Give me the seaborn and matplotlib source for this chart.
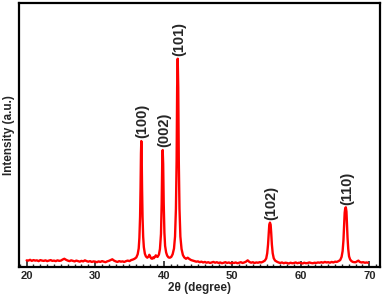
"""XRD pattern - (hkl) reflections"""
import pandas as pd
import matplotlib
matplotlib.use('Agg')
import matplotlib.pyplot as plt
from matplotlib.ticker import MultipleLocator
import seaborn as sns

# 2theta (degree) and intensity (a.u.)
two_theta = [
    20.0, 20.25, 20.5, 20.75, 21.0, 21.25, 21.5, 21.75, 22.0, 22.25, 22.5, 22.75,
    23.0, 23.25, 23.5, 23.75, 24.0, 24.25, 24.5, 24.75, 25.0, 25.25, 25.5, 25.75,
    26.0, 26.25, 26.5, 26.75, 27.0, 27.25, 27.5, 27.75, 28.0, 28.25, 28.5, 28.75,
    29.0, 29.25, 29.5, 29.75, 30.0, 30.25, 30.5, 30.75, 31.0, 31.25, 31.5, 31.75,
    32.0, 32.25, 32.5, 32.75, 33.0, 33.25, 33.5, 33.75, 34.0, 34.25, 34.5, 34.75,
    35.0, 35.25, 35.5, 35.75, 36.0, 36.2, 36.35, 36.45, 36.55, 36.62, 36.68, 36.73,
    36.78, 36.84, 36.91, 37.0, 37.1, 37.25, 37.4, 37.6, 37.8, 37.9, 38.0, 38.15,
    38.3, 38.45, 38.55, 38.7, 38.85, 38.95, 39.1, 39.3, 39.45, 39.6, 39.7, 39.78,
    39.85, 39.92, 40.0, 40.1, 40.2, 40.35, 40.5, 40.7, 40.9, 41.1, 41.3, 41.5,
    41.65, 41.78, 41.88, 41.96, 42.04, 42.12, 42.2, 42.3, 42.43, 42.6, 42.8, 43.0,
    43.25, 43.5, 43.75, 44.0, 44.25, 44.5, 44.75, 45.0, 45.25, 45.5, 45.75, 46.0,
    46.25, 46.5, 46.75, 47.0, 47.25, 47.5, 47.75, 48.0, 48.25, 48.5, 48.75, 49.0,
    49.25, 49.5, 49.75, 50.0, 50.25, 50.5, 50.75, 51.0, 51.25, 51.5, 51.75, 52.0,
    52.25, 52.5, 52.75, 53.0, 53.25, 53.5, 53.75, 54.0, 54.25, 54.5, 54.75, 54.95,
    55.1, 55.22, 55.32, 55.4, 55.5, 55.6, 55.68, 55.78, 55.9, 56.05, 56.25, 56.5,
    56.75, 57.0, 57.25, 57.5, 57.75, 58.0, 58.25, 58.5, 58.75, 59.0, 59.25, 59.5,
    59.75, 60.0, 60.25, 60.5, 60.75, 61.0, 61.25, 61.5, 61.75, 62.0, 62.25, 62.5,
    62.75, 63.0, 63.25, 63.5, 63.75, 64.0, 64.25, 64.5, 64.75, 65.0, 65.25, 65.5,
    65.75, 65.95, 66.1, 66.22, 66.32, 66.4, 66.48, 66.57, 66.66, 66.74, 66.82, 66.92,
    67.04, 67.2, 67.4, 67.6, 67.8, 68.0, 68.25, 68.4, 68.6, 68.85, 69.1, 69.35,
    69.6, 69.8,
]
intensity = [
    25, 24, 27, 23, 26, 24, 25, 22, 26, 24, 23, 25,
    22, 24, 26, 23, 24, 22, 25, 23, 24, 28, 31, 27,
    24, 22, 25, 23, 21, 24, 22, 20, 23, 21, 25, 22,
    20, 22, 19, 21, 20, 18, 21, 19, 22, 20, 18, 21,
    23, 26, 29, 24, 21, 19, 22, 20, 21, 19, 22, 24,
    22, 26, 28, 31, 36, 48, 70, 110, 190, 300, 430, 477,
    430, 300, 190, 115, 75, 50, 40, 35, 40, 46, 41, 33,
    31, 36, 33, 38, 44, 40, 38, 47, 68, 125, 240, 390,
    443, 390, 240, 130, 80, 55, 43, 36, 35, 38, 48, 70,
    115, 220, 400, 680, 789, 680, 400, 220, 115, 68, 45, 36,
    31, 35, 30, 26, 24, 22, 20, 21, 18, 20, 17, 19,
    16, 18, 15, 17, 19, 16, 18, 15, 17, 14, 16, 18,
    15, 17, 14, 16, 15, 17, 14, 16, 18, 15, 17, 20,
    25, 19, 16, 18, 15, 17, 16, 18, 17, 20, 24, 32,
    52, 85, 130, 160, 168, 160, 130, 85, 52, 33, 24, 20,
    17, 15, 17, 14, 16, 15, 13, 16, 14, 15, 17, 14,
    16, 15, 13, 16, 14, 15, 17, 15, 14, 16, 15, 17,
    16, 18, 16, 19, 17, 18, 16, 19, 17, 20, 19, 22,
    26, 38, 60, 100, 155, 205, 222, 226, 210, 160, 110, 68,
    40, 28, 22, 19, 18, 18, 22, 24, 19, 17, 18, 16,
    17, 16,
]

# reflections: label, position, peak intensity
peak_labels = ['(100)', '(002)', '(101)', '(102)', '(110)']
peak_pos = [36.73, 39.85, 42.04, 55.5, 66.57]
peak_int = [477, 443, 789, 168, 226]

df = pd.DataFrame({'two_theta': two_theta, 'intensity': intensity})

sns.set_style('white')
plt.rcParams['font.family'] = ['Liberation Sans', 'DejaVu Sans']

fig = plt.figure(figsize=(3.87, 3.03), dpi=100)
ax = fig.add_axes([0.049, 0.119, 0.933, 0.871])

sns.lineplot(data=df, x='two_theta', y='intensity', ax=ax, color='#ff0000',
             linewidth=1.7, estimator=None, sort=False)

for lab, xp, yp in zip(peak_labels, peak_pos, peak_int):
    ax.annotate(lab, xy=(xp, yp), xytext=(1, 2), textcoords='offset points',
                rotation=90, ha='center', va='bottom', fontsize=10.5,
                fontweight='bold')

ax.set_xlim(18.88, 71.56)
ax.set_ylim(0, 1000)
ax.set_yticks([])
ax.xaxis.set_major_locator(MultipleLocator(10))
ax.xaxis.set_minor_locator(MultipleLocator(1))
ax.tick_params(axis='x', which='major', direction='in', length=4, width=1.2,
               labelsize=8, pad=3, bottom=True)
ax.tick_params(axis='x', which='minor', direction='in', length=2.5, width=1,
               bottom=True)
for t in ax.get_xticklabels():
    t.set_fontweight('bold')

for sp in ax.spines.values():
    sp.set_linewidth(1.6)
    sp.set_color('black')

ax.set_xlabel('2θ (degree)', fontsize=8.5, fontweight='bold', labelpad=1)
ax.set_ylabel('Intensity (a.u.)', fontsize=8.5, fontweight='bold', labelpad=3)

fig.savefig('out.png', dpi=100)
